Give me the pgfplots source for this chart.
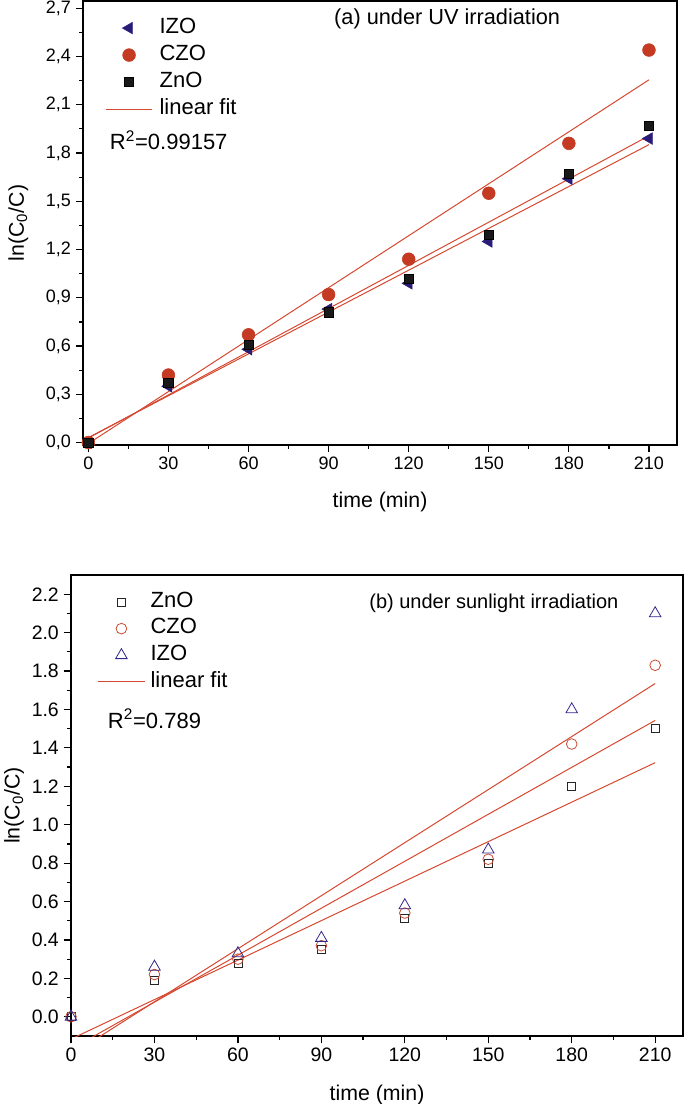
\documentclass[border=0pt]{standalone}
\usepackage{fontspec}
\setmainfont{Liberation Sans}
\usepackage{pgfplots}
\pgfplotsset{compat=1.18}
\definecolor{myred}{RGB}{196,58,34}
\definecolor{mynavy}{RGB}{40,28,120}
\definecolor{fitred}{RGB}{214,72,48}
\definecolor{ored}{RGB}{205,75,50}
\definecolor{onavy}{RGB}{50,40,140}
\pgfplotsset{
  common/.style={
    scale only axis,
    tick align=outside, xtick pos=left, ytick pos=left,
    minor x tick num=1, minor y tick num=1,
    major tick length=5.6pt, minor tick length=3pt,
    axis line style={line width=1.1pt},
    every tick/.style={black, line width=0.9pt},
    /pgf/number format/assume math mode=true,
    xticklabel style={/pgf/number format/.cd, fixed, precision=0},
    legend cell align=left,
    legend image code/.code={\draw[mark repeat=2,mark phase=2,##1] plot coordinates {(0pt,0pt)(17.5pt,0pt)(35pt,0pt)};},
  }
}
\begin{document}
\begin{tikzpicture}
\path[use as bounding box] (0,0) rectangle (513.75pt,828pt);
% ---------------- (a) -----------------
\begin{axis}[common,
  at={(62.25pt,494.25pt)}, anchor=south west,
  width=445.5pt, height=333pt,
  xmin=-2, xmax=220.5, ymin=-0.015, ymax=2.745,
  xtick={0,30,60,90,120,150,180,210},
  ytick={0,0.3,0.6,0.9,1.2,1.5,1.8,2.1,2.4,2.7},
  yticklabel style={/pgf/number format/.cd, fixed, fixed zerofill, precision=1, use comma},
  tick label style={font=\fontsize{13.5}{16}\selectfont},
  xlabel={time (min)},
  xlabel style={at={(axis description cs:0.5,-0.128)}, anchor=center, font=\fontsize{16}{19}\selectfont},
  ylabel={ln(C\textsubscript{0}/C)},
  ylabel style={at={(axis description cs:-0.109,0.5)}, anchor=center, font=\fontsize{16}{19}\selectfont},
  legend style={at={(0.037,0.970)}, anchor=north west, draw=none, fill=none, inner sep=0pt,
    nodes={inner xsep=5pt, inner ysep=0pt, text height=14pt, text depth=6.25pt},
    font=\fontsize{16.5}{19.5}\selectfont, row sep=0pt},
]
\addplot[only marks, mark=triangle*, mark size=5pt, mynavy, mark options={rotate=90, fill=mynavy, draw=mynavy}]
  coordinates {(0,0)(30,0.35)(60,0.58)(90,0.83)(120,0.99)(150,1.25)(180,1.64)(210,1.89)};
\addlegendentry{IZO}
\addplot[only marks, mark=*, mark size=4.8pt, myred, mark options={fill=myred, draw=myred}]
  coordinates {(0,0)(30,0.42)(60,0.67)(90,0.92)(120,1.14)(150,1.55)(180,1.86)(210,2.44)};
\addlegendentry{CZO}
\addplot[only marks, mark=square*, mark size=3.5pt, black, mark options={fill=black!90}]
  coordinates {(0,0)(30,0.37)(60,0.61)(90,0.81)(120,1.02)(150,1.29)(180,1.67)(210,1.97)};
\addlegendentry{ZnO}
\addplot[fitred, line width=0.75pt] coordinates {(0,-0.006)(210,2.255)};
\addlegendentry{linear fit}
\addplot[fitred, line width=0.75pt, forget plot] coordinates {(0,0.031)(210,1.852)};
\addplot[fitred, line width=0.75pt, forget plot] coordinates {(0,0.028)(210,1.907)};
\node[anchor=center, font=\fontsize{16.3}{19}\selectfont] at (rel axis cs:0.613,0.959) {(a) under UV irradiation};
\node[anchor=west, inner sep=0pt, font=\fontsize{16.5}{19}\selectfont] at (rel axis cs:0.045,0.687) {R\textsuperscript{2}=0.99157};
\end{axis}
% ---------------- (b) -----------------
\begin{axis}[common,
  at={(53.25pt,51pt)}, anchor=south west,
  width=459pt, height=345.75pt,
  xmin=0, xmax=220, ymin=-0.1, ymax=2.3,
  xtick={0,30,60,90,120,150,180,210},
  ytick={0,0.2,0.4,0.6,0.8,1.0,1.2,1.4,1.6,1.8,2.0,2.2},
  yticklabel style={/pgf/number format/.cd, fixed, fixed zerofill, precision=1},
  tick label style={font=\fontsize{14.6}{17}\selectfont},
  xlabel={time (min)},
  xlabel style={at={(axis description cs:0.5,-0.128)}, anchor=center, font=\fontsize{16}{19}\selectfont},
  ylabel={ln(C\textsubscript{0}/C)},
  ylabel style={at={(axis description cs:-0.093,0.5)}, anchor=center, font=\fontsize{16}{19}\selectfont},
  legend style={at={(0.043,0.971)}, anchor=north west, draw=none, fill=none, inner sep=0pt,
    nodes={inner xsep=4pt, inner ysep=0pt, text height=14pt, text depth=6pt},
    font=\fontsize{16.5}{19.5}\selectfont, row sep=0pt},
]
\addplot[only marks, mark=square, mark size=3pt, black!85, mark options={line width=0.6pt}]
  coordinates {(0,0)(30,0.19)(60,0.28)(90,0.35)(120,0.51)(150,0.80)(180,1.20)(210,1.50)};
\addlegendentry{ZnO}
\addplot[only marks, mark=o, mark size=4pt, ored, mark options={line width=0.6pt}]
  coordinates {(0,0)(30,0.22)(60,0.30)(90,0.37)(120,0.54)(150,0.82)(180,1.42)(210,1.83)};
\addlegendentry{CZO}
\addplot[only marks, mark=triangle, mark size=5pt, onavy, mark options={line width=0.6pt}]
  coordinates {(0,0)(30,0.26)(60,0.33)(90,0.41)(120,0.58)(150,0.87)(180,1.60)(210,2.10)};
\addlegendentry{IZO}
\addplot[fitred, line width=0.75pt] coordinates {(0,-0.198)(210,1.735)};
\addlegendentry{linear fit}
\addplot[fitred, line width=0.75pt, forget plot] coordinates {(0,-0.168)(210,1.543)};
\addplot[fitred, line width=0.75pt, forget plot] coordinates {(0,-0.116)(210,1.323)};
\node[anchor=center, font=\fontsize{15}{18}\selectfont] at (rel axis cs:0.691,0.939) {(b) under sunlight irradiation};
\node[anchor=west, inner sep=0pt, font=\fontsize{16.5}{19}\selectfont] at (rel axis cs:0.060,0.688) {R\textsuperscript{2}=0.789};
\end{axis}
\end{tikzpicture}
\end{document}
